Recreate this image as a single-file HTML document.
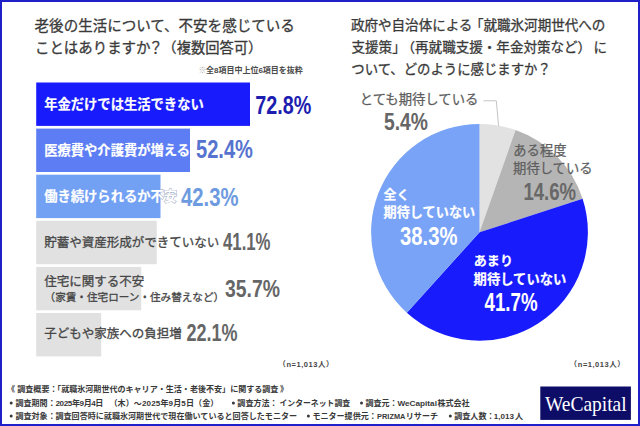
<!DOCTYPE html>
<html lang="ja"><head><meta charset="utf-8"><title>WeCapital 調査</title>
<style>
html,body{margin:0;padding:0;background:#fff}
body{width:640px;height:426px;position:relative;overflow:hidden;font-family:"Liberation Sans",sans-serif}
#frame{position:absolute;left:0;top:0;width:640px;height:426px;box-sizing:border-box;border:2px solid #2020c8}
svg{position:absolute;left:0;top:0;display:block}
svg text{font-family:"Liberation Sans","Noto Sans CJK JP",sans-serif}
.sr{position:absolute;left:0;top:0;width:1px;height:1px;margin:0;padding:0;overflow:hidden;clip:rect(0 0 0 0);opacity:0;white-space:nowrap;font-size:1px}
</style></head><body>
<svg width="640" height="426" viewBox="0 0 640 426" role="img" aria-labelledby="t"><title id="t">就職氷河期世代のキャリア・生活・老後不安に関する調査</title>
<text x="34.6" y="31.02" font-size="14.52" fill="#3a3a3a" stroke="#3a3a3a" stroke-width="0.3" stroke-linejoin="round">老後の生活について、不安を感じている</text>
<text x="35" y="52.89" font-size="14.45" fill="#3a3a3a" stroke="#3a3a3a" stroke-width="0.3" stroke-linejoin="round">ことはありますか</text>
<text x="148.6" y="52.89" font-size="14.45" fill="#3a3a3a" stroke="#3a3a3a" stroke-width="0.3" stroke-linejoin="round">？</text>
<text x="162.35" y="52.83" font-size="14.3" fill="#3a3a3a" stroke="#3a3a3a" stroke-width="0.3" stroke-linejoin="round">（複数回答可）</text>
<text x="198.48" y="73.24" font-size="8" fill="#a8a8a8">※</text>
<text x="205.94" y="73.24" font-size="8" font-weight="bold" fill="#4a4a4a">全8項目中上位6項目を抜粋</text>
<rect x="36.20" y="82.50" width="213.80" height="43.40" fill="#181cfc"/><rect x="36.20" y="128.60" width="153.80" height="43.40" fill="#5c7df3"/><rect x="36.20" y="174.70" width="124.30" height="43.40" fill="#72a0f3"/><rect x="36.20" y="220.80" width="120.60" height="43.40" fill="#e1e1e1"/><rect x="36.20" y="266.90" width="105.00" height="43.40" fill="#e1e1e1"/><rect x="36.20" y="313.00" width="65.00" height="43.40" fill="#e1e1e1"/>
<text x="44.2" y="108.75" font-size="13.3" font-weight="bold" fill="#fff" stroke="#fff" stroke-width="0.2" stroke-linejoin="round">年金だけでは生活できない</text>
<text x="44.2" y="154.85" font-size="13.3" font-weight="bold" fill="#fff" stroke="#fff" stroke-width="0.2" stroke-linejoin="round">医療費や介護費が増える</text>
<clipPath id="cp"><rect x="160.5" y="170" width="40" height="50"/></clipPath>
<g clip-path="url(#cp)"><text x="44.2" y="200.85" font-size="13.3" font-weight="bold" fill="#fff" stroke="#8e9ab8" stroke-width="1">働き続けられるか不安</text></g>
<text x="44.2" y="200.85" font-size="13.3" font-weight="bold" fill="#fff" stroke="#fff" stroke-width="0.2" stroke-linejoin="round">働き続けられるか不安</text>
<text x="44.2" y="246.55" font-size="12.5" fill="#464646" stroke="#464646" stroke-width="0.3" stroke-linejoin="round">貯蓄や資産形成ができていない</text>
<text x="44.2" y="286.15" font-size="12.5" fill="#464646" stroke="#464646" stroke-width="0.3" stroke-linejoin="round">住宅に関する不安</text>
<text x="44.6" y="301.33" font-size="10.6" fill="#464646" stroke="#464646" stroke-width="0.3" stroke-linejoin="round">（家賃・住宅ローン・住み替えなど）</text>
<text x="44.2" y="338.15" font-size="12.5" fill="#464646" stroke="#464646" stroke-width="0.3" stroke-linejoin="round">子どもや家族への負担増</text>
<text x="255.3" y="113.8" font-size="25" font-weight="bold" fill="#1d1db0" textLength="56" lengthAdjust="spacingAndGlyphs">72.8%</text>
<text x="196" y="158.4" font-size="25" font-weight="bold" fill="#5674cf" textLength="57" lengthAdjust="spacingAndGlyphs">52.4%</text>
<text x="181" y="205.8" font-size="25" font-weight="bold" fill="#6e9be0" textLength="57.5" lengthAdjust="spacingAndGlyphs">42.3%</text>
<text x="223" y="250.2" font-size="24.3" font-weight="bold" fill="#666" textLength="47.5" lengthAdjust="spacingAndGlyphs">41.1%</text>
<text x="225" y="296.7" font-size="24.3" font-weight="bold" fill="#666" textLength="55" lengthAdjust="spacingAndGlyphs">35.7%</text>
<text x="186.5" y="341" font-size="24.3" font-weight="bold" fill="#666" textLength="51" lengthAdjust="spacingAndGlyphs">22.1%</text>
<text y="367.45" font-size="7.5" font-weight="bold" fill="#444"><tspan x="278.23">（</tspan><tspan x="286.48" textLength="30.9">n=1,013</tspan><tspan x="318.03">人</tspan><tspan x="325.96">）</tspan></text>
<text x="350.9" y="30.35" font-size="13.55" fill="#3a3a3a" stroke="#3a3a3a" stroke-width="0.3" stroke-linejoin="round">政府や自治体による</text>
<text x="469.9" y="30.35" font-size="13.55" fill="#3a3a3a" stroke="#3a3a3a" stroke-width="0.3" stroke-linejoin="round">「就職氷河期世代への</text>
<text x="351.5" y="52.35" font-size="13.55" fill="#3a3a3a" stroke="#3a3a3a" stroke-width="0.3" stroke-linejoin="round">支援策」</text>
<text x="401.5" y="52.35" font-size="13.55" fill="#3a3a3a" stroke="#3a3a3a" stroke-width="0.3" stroke-linejoin="round">（再就職支援・年金対策など）</text>
<text x="593.6" y="52.35" font-size="13.55" fill="#3a3a3a" stroke="#3a3a3a" stroke-width="0.3" stroke-linejoin="round">に</text>
<text x="351.3" y="74.09" font-size="13.39" fill="#3a3a3a" stroke="#3a3a3a" stroke-width="0.3" stroke-linejoin="round">ついて、どのように感じますか？</text>
<path d="M479.50 232.30L479.50 123.90A108.40 108.40 0 0 1 515.58 130.08Z" fill="#e2e2e2"/><path d="M479.50 232.30L515.58 130.08A108.40 108.40 0 0 1 582.59 198.80Z" fill="#b5b5b5"/><path d="M479.50 232.30L582.59 198.80A108.40 108.40 0 0 1 406.80 312.70Z" fill="#181cfc"/><path d="M479.50 232.30L406.80 312.70A108.40 108.40 0 0 1 479.50 123.90Z" fill="#78a3f6"/><path d="M483.5 100.8H496.3L498.6 126" fill="none" stroke="#bdbdbd" stroke-width="0.9"/>
<text x="359.7" y="103.67" font-size="13.35" fill="#5e5e5e" stroke="#5e5e5e" stroke-width="0.25" stroke-linejoin="round">とても期待している</text>
<text x="384" y="130.2" font-size="24.3" font-weight="bold" fill="#666" textLength="44" lengthAdjust="spacingAndGlyphs">5.4%</text>
<text x="513.3" y="154.85" font-size="13.3" fill="#5e5e5e" stroke="#5e5e5e" stroke-width="0.25" stroke-linejoin="round">ある程度</text>
<text x="513.1" y="173.45" font-size="13.3" fill="#5e5e5e" stroke="#5e5e5e" stroke-width="0.25" stroke-linejoin="round">期待している</text>
<text x="523.4" y="200.2" font-size="24.3" font-weight="bold" fill="#686868" textLength="52.6" lengthAdjust="spacingAndGlyphs">14.6%</text>
<text x="383.5" y="198.5" font-size="12.9" font-weight="bold" fill="#fff" stroke="#fff" stroke-width="0.2" stroke-linejoin="round">全く</text>
<text x="383.5" y="216.5" font-size="13.17" font-weight="bold" fill="#fff" stroke="#fff" stroke-width="0.2" stroke-linejoin="round">期待していない</text>
<text x="400" y="244.5" font-size="25.8" font-weight="bold" fill="#fff" textLength="57.4" lengthAdjust="spacingAndGlyphs">38.3%</text>
<text x="473.8" y="265.46" font-size="13.05" font-weight="bold" fill="#fff" stroke="#fff" stroke-width="0.2" stroke-linejoin="round">あまり</text>
<text x="473.6" y="284.05" font-size="13.3" font-weight="bold" fill="#fff" stroke="#fff" stroke-width="0.2" stroke-linejoin="round">期待していない</text>
<text x="484.5" y="310.6" font-size="25.3" font-weight="bold" fill="#fff" textLength="53" lengthAdjust="spacingAndGlyphs">41.7%</text>
<text y="367.45" font-size="7.5" font-weight="bold" fill="#444"><tspan x="569.53">（</tspan><tspan x="577.78" textLength="30.9">n=1,013</tspan><tspan x="609.34">人</tspan><tspan x="617.26">）</tspan></text>
<g font-size="8.05" font-weight="bold" fill="#383838">
<text x="7.03" y="392.46">《</text>
<text x="17.26" y="392.46">調査概要：</text>
<text x="53.05" y="392.46">「</text>
<text x="61.17" y="392.46">就職氷河期世代のキャリア・生活・老後不安」に関する調査</text>
<text x="279.98" y="392.46">》</text>
<text x="15.46" y="405.66">調査期間：</text>
<text x="55.52" y="405.66" textLength="47.9">2025年9月4日</text>
<text x="109.4" y="405.66" textLength="109">（木）～2025年9月5日（金）</text>
<text x="237.36" y="405.66">調査方法：</text>
<text x="279.51" y="405.58" font-size="7.85">インターネット調査</text>
<text x="365.46" y="405.66">調査元：</text>
<text x="397.45" y="405.66" textLength="39.5" lengthAdjust="spacingAndGlyphs">WeCapital</text>
<text x="437.44" y="405.66">株式会社</text>
<text x="15.46" y="418.76">調査対象：</text>
<text x="55.46" y="418.77" font-size="8.07">調査回答時に就職氷河期世代で現在働いていると回答したモニター</text>
<text x="312.45" y="418.76">モニター提供元：</text>
<text x="377.12" y="418.76" textLength="28.3" lengthAdjust="spacingAndGlyphs">PRIZMA</text>
<text x="405.84" y="418.76">リサーチ</text>
<text x="454.26" y="418.76">調査人数：</text>
<text x="493.88" y="418.76" textLength="20.2" lengthAdjust="spacingAndGlyphs">1,013</text>
<text x="515.02" y="418.76">人</text>
</g>
<circle cx="11.20" cy="403.00" r="1.50" fill="#383838"/>
<circle cx="233.40" cy="403.00" r="1.50" fill="#383838"/>
<circle cx="361.50" cy="403.00" r="1.50" fill="#383838"/>
<circle cx="11.20" cy="416.10" r="1.50" fill="#383838"/>
<circle cx="308.40" cy="416.10" r="1.50" fill="#383838"/>
<circle cx="450.30" cy="416.10" r="1.50" fill="#383838"/>
<rect x="540.30" y="386.50" width="90.60" height="33.40" fill="#0d0d68"/>
<text x="544.98" y="410.8" font-size="20.9" fill="#fff" style="font-family:'Liberation Serif',serif" textLength="81.7" lengthAdjust="spacingAndGlyphs">WeCapital</text>
</svg>
<div class="sr">
<h1>就職氷河期世代のキャリア・生活・老後不安に関する調査</h1>
<section><h2>老後の生活について、不安を感じていることはありますか？（複数回答可）</h2>
<p>※全8項目中上位6項目を抜粋</p>
<ul><li>年金だけでは生活できない 72.8%</li><li>医療費や介護費が増える 52.4%</li><li>働き続けられるか不安 42.3%</li><li>貯蓄や資産形成ができていない 41.1%</li><li>住宅に関する不安（家賃・住宅ローン・住み替えなど） 35.7%</li><li>子どもや家族への負担増 22.1%</li></ul><p>（n=1,013人）</p></section>
<section><h2>政府や自治体による「就職氷河期世代への支援策」（再就職支援・年金対策など）について、どのように感じますか？</h2>
<ul><li>とても期待している 5.4%</li><li>ある程度期待している 14.6%</li><li>あまり期待していない 41.7%</li><li>全く期待していない 38.3%</li></ul><p>（n=1,013人）</p></section>
<footer><p>《 調査概要：「就職氷河期世代のキャリア・生活・老後不安」に関する調査 》</p>
<p>・調査期間：2025年9月4日（木）～2025年9月5日（金） ・調査方法：インターネット調査 ・調査元：WeCapital株式会社</p>
<p>・調査対象：調査回答時に就職氷河期世代で現在働いていると回答したモニター ・モニター提供元：PRIZMAリサーチ ・調査人数：1,013人</p>
<p>WeCapital</p></footer>
</div>
<div id="frame"></div>
</body></html>
